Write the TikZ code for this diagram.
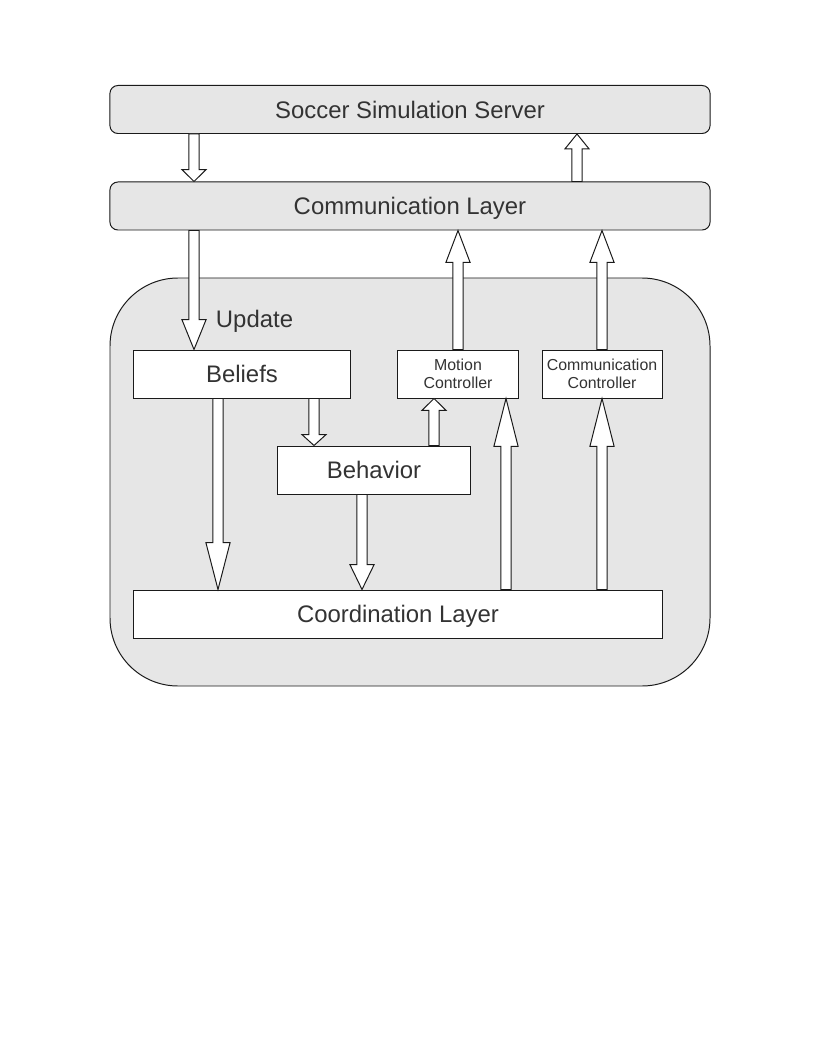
\documentclass[tikz,border=0pt]{standalone}
\usepackage{fontspec}
\setmainfont{Liberation Sans}
\usetikzlibrary{calc}
\definecolor{boxgray}{HTML}{E6E6E6}
\definecolor{txtgray}{HTML}{333333}
\definecolor{edgeblack}{HTML}{1A1A1A}
% hollow block arrow: start, end, head length (px)
\newcommand{\blockarr}[3]{%
  \draw[blockarrow] let \p1=(#1), \p2=(#2),
      \n1={\y2-sign(\y2-\y1)*#3*0.7087} in
    (\x1-3.6pt,\n1) -- (\x1-8.6pt,\n1) -- (\x1,\y2) -- (\x1+8.6pt,\n1)
    -- (\x1+3.6pt,\n1) -- (\x1+3.6pt,\y1) -- (\x1-3.6pt,\y1) -- cycle;}

\begin{document}
\begin{tikzpicture}[
  x=0.025cm, y=-0.025cm,
  layer/.style={rectangle, rounded corners=0.2cm, draw=edgeblack, fill=boxgray, text=txtgray, minimum width=15cm, minimum height=1.2cm, line width=0.7pt, font=\fontsize{17}{20}\selectfont, text depth=0pt},
  module/.style={rectangle, draw=edgeblack, fill=white, text=txtgray, minimum width=#1, minimum height=1.2cm, line width=0.7pt, font=\fontsize{17}{20}\selectfont, text depth=0pt},
  ctrl/.style={rectangle, draw=edgeblack, fill=white, text=txtgray, minimum width=3cm, minimum height=1.2cm, align=center, line width=0.7pt, font=\fontsize{11.3}{13}\selectfont},
  blockarrow/.style={draw=edgeblack, fill=white, line width=0.7pt, line join=miter},
]
  \useasboundingbox (0,0) rectangle (816,1056);

  % Layers
  \node[layer] (srv) at (410,109.5) {Soccer Simulation Server};
  \node[layer] (com) at (410,206) {Communication Layer};

  % Agent
  \draw[draw=edgeblack, fill=boxgray, line width=0.7pt, rounded corners=1.7cm] (110,278) rectangle (710,686);
  \node[text=txtgray, font=\fontsize{17}{20}\selectfont, anchor=west] (upd) at (211,321) {Update};

  \node[module=5.4cm] (blf) at (242,374) {Beliefs};
  \node[ctrl] (mot) at (458,374) {Motion\\Controller};
  \node[ctrl] (cctl) at (602,374) {Communication\\Controller};
  \node[module=4.8cm] (beh) at (374,470) {Behavior};
  \node[module=13.2cm] (crd) at (398,614) {Coordination Layer};

  % Arrows
  \blockarr{srv.south -| 194,0}{com.north -| 194,0}{12}
  \blockarr{com.north -| 577,0}{srv.south -| 577,0}{15}
  \blockarr{com.south -| 194,0}{blf.north -| 194,0}{30}
  \blockarr{mot.north}{com.south -| mot.north}{32}
  \blockarr{cctl.north}{com.south -| cctl.north}{32}
  \blockarr{blf.south -| 218,0}{crd.north -| 218,0}{47}
  \blockarr{blf.south -| 314,0}{beh.north -| 314,0}{11}
  \blockarr{beh.north -| 434,0}{mot.south -| 434,0}{12}
  \blockarr{beh.south -| 362,0}{crd.north -| 362,0}{25}
  \blockarr{crd.north -| 506,0}{mot.south -| 506,0}{48}
  \blockarr{crd.north -| cctl.south}{cctl.south}{48}
\end{tikzpicture}
\end{document}
